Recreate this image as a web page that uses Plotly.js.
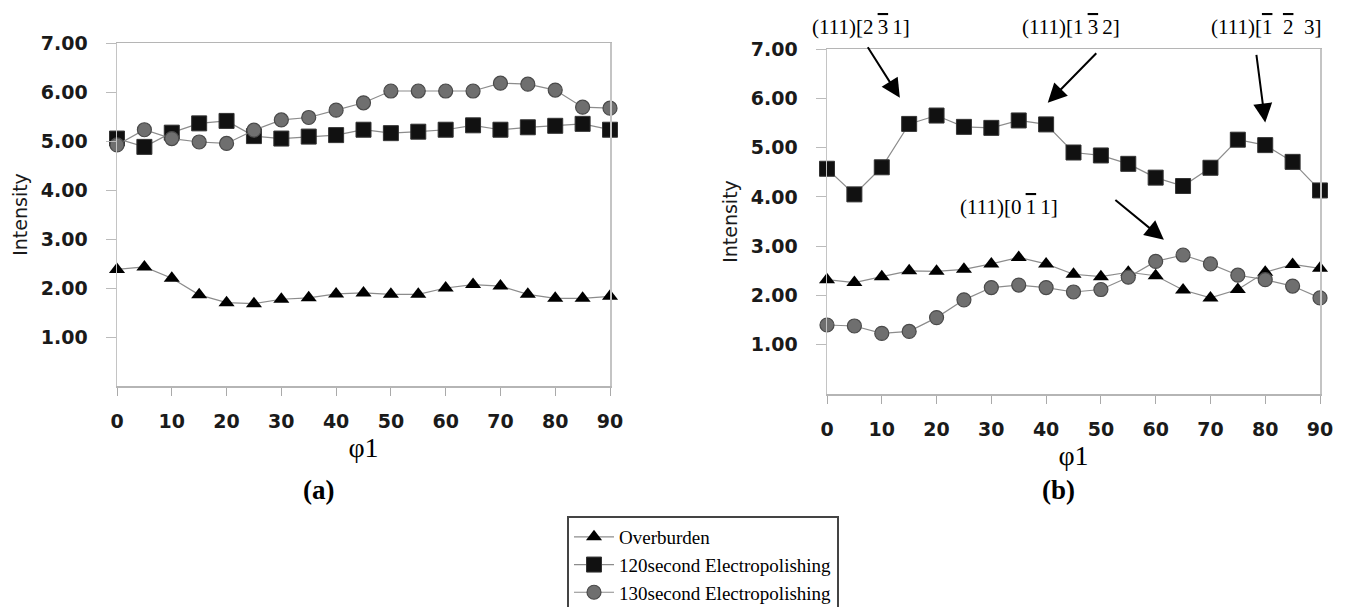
<!DOCTYPE html>
<html>
<head>
<meta charset="utf-8">
<script src="https://cdn.plot.ly/plotly-3.0.1.min.js"></script>
<style>html,body{margin:0;padding:0;background:#fff;}#chart{width:1347px;height:607px;}</style>
</head>
<body>
<div id="chart"></div>
<script>
// φ1 angles
const phi1 = [0,5,10,15,20,25,30,35,40,45,50,55,60,65,70,75,80,85,90];

// Panel (a)
const overburdenA = [2.38,2.43,2.20,1.86,1.70,1.68,1.77,1.80,1.88,1.90,1.87,1.87,2.00,2.07,2.04,1.87,1.79,1.79,1.83];
const ep120A      = [5.05,4.88,5.17,5.36,5.41,5.10,5.05,5.09,5.12,5.23,5.16,5.19,5.23,5.32,5.23,5.28,5.31,5.35,5.23];
const ep130A      = [4.92,5.23,5.05,4.98,4.95,5.22,5.43,5.48,5.63,5.78,6.02,6.02,6.02,6.02,6.18,6.16,6.04,5.69,5.67];

// Panel (b)
const overburdenB = [2.32,2.26,2.38,2.50,2.49,2.53,2.64,2.77,2.64,2.43,2.38,2.47,2.40,2.11,1.95,2.12,2.47,2.63,2.55];
const ep120B      = [4.57,4.05,4.60,5.48,5.65,5.42,5.40,5.55,5.47,4.90,4.84,4.67,4.39,4.22,4.59,5.16,5.05,4.71,4.13];
const ep130B      = [1.40,1.38,1.23,1.27,1.55,1.91,2.16,2.21,2.16,2.07,2.12,2.37,2.69,2.82,2.64,2.41,2.32,2.19,1.95];

// Tick labels
const xTickVals = [0,10,20,30,40,50,60,70,80,90];
const yTickVals = [1,2,3,4,5,6,7];
const yTickText = ["1.00","2.00","3.00","4.00","5.00","6.00","7.00"];

const seriesNames = ["Overburden","120second Electropolishing","130second Electropolishing"];

const lineStyle = {color:'#8c8c8c', width:1.2};
const markers = [
  {symbol:'triangle-up', size:14, color:'#000000', line:{color:'#000', width:0}},
  {symbol:'square', size:15, color:'#111111', line:{color:'#333', width:1}},
  {symbol:'circle', size:14, color:'#6f6f6f', line:{color:'#4a4a4a', width:1.2}}
];

function mk(y, i, xa, ya, show){
  return {x:phi1, y:y, type:'scatter', mode:'lines+markers', name:seriesNames[i],
    xaxis:xa, yaxis:ya, showlegend:show, legendrank:i,
    line:lineStyle, marker:markers[i], cliponaxis:false};
}

const traces = [
  mk(overburdenA,0,'x','y',true), mk(ep120A,1,'x','y',true), mk(ep130A,2,'x','y',true),
  mk(overburdenB,0,'x2','y2',false), mk(ep120B,1,'x2','y2',false), mk(ep130B,2,'x2','y2',false)
];

const tickFont = {family:'DejaVu Sans', size:19, color:'#1a1a1a', weight:'bold'};
const serif = 'Liberation Serif, Times New Roman, serif';

function xAxis(domain, anchor, st){
  return {domain:domain, anchor:anchor, range:[0,90], tickvals:xTickVals,
    ticks:'outside', ticklen:8, tickcolor:'#aaa', showline:true, linecolor:'#b5b5b5', linewidth:1.5,
    mirror:true, showgrid:false, zeroline:false, tickfont:tickFont, ticklabelstandoff:10,
    title:{text:'φ1', font:{family:serif, size:28, color:'#000'}, standoff:st}};
}
function yAxis(domain, anchor){
  return {domain:domain, anchor:anchor, range:[0,7], tickvals:yTickVals, ticktext:yTickText,
    ticks:'outside', ticklen:10, tickcolor:'#bbb', showline:true, linecolor:'#c4c4c4', linewidth:1.5,
    mirror:true, showgrid:false, zeroline:false, tickfont:tickFont, ticklabelstandoff:14,
    title:{text:'Intensity', font:{family:'DejaVu Sans', size:19, color:'#1a1a1a'}, standoff:8}};
}

const labFont = {family:serif, size:21, color:'#000'};
const ov = s => '<span style="text-decoration:overline">' + s + '</span>';
function label(t, px, py){
  return {text:t, xref:'paper', yref:'paper', x:px/1347, y:1-py/607, xanchor:'center', yanchor:'middle', showarrow:false, font:labFont};
}
function arrow(x, y, ax, ay){
  return {text:'', xref:'x2', yref:'y2', x:x, y:y, ax:ax, ay:ay, showarrow:true, arrowhead:2, arrowsize:1.9, arrowwidth:2, arrowcolor:'#000'};
}
const annotations = [
  {text:'<b>(a)</b>', xref:'paper', yref:'paper', x:318/1347, y:1-490/607, xanchor:'center', yanchor:'middle', showarrow:false, font:{family:serif, size:27, color:'#000'}},
  {text:'<b>(b)</b>', xref:'paper', yref:'paper', x:1058/1347, y:1-490/607, xanchor:'center', yanchor:'middle', showarrow:false, font:{family:serif, size:27, color:'#000'}},
  label('(111)[2\u2009' + ov('3') + '\u20091]', 861, 27),
  label('(111)[1\u2009' + ov('3') + '\u20092]', 1071, 27),
  label('(111)[' + ov('1') + '\u2002' + ov('2') + '\u20023]', 1266, 27),
  label('(111)[0\u2009' + ov('1') + '\u20091]', 1009, 207),
  arrow(13.3, 6.01, -33, -52),
  arrow(40.3, 5.91, 50, -51),
  arrow(80.0, 5.51, -9, -69),
  arrow(61.5, 3.13, -50, -41)
];

const layout = {
  width:1347, height:607, margin:{l:0,r:0,t:0,b:0,pad:0,autoexpand:false},
  paper_bgcolor:'#fff', plot_bgcolor:'#fff', showlegend:true,
  xaxis:xAxis([117/1347,610/1347],'y',0), yaxis:yAxis([1-386/607,1-43/607],'x'),
  xaxis2:xAxis([827/1347,1320/1347],'y2',4), yaxis2:yAxis([1-394/607,1-49/607],'x2'),
  legend:{x:567/1347, y:1-516/607, xanchor:'left', yanchor:'top', bgcolor:'#fff',
    bordercolor:'#444', borderwidth:2, itemwidth:40, tracegroupgap:0,
    font:{family:serif, size:19, color:'#000'}},
  annotations:annotations
};

Plotly.newPlot('chart', traces, layout, {displayModeBar:false, staticPlot:true});
</script>
</body>
</html>
